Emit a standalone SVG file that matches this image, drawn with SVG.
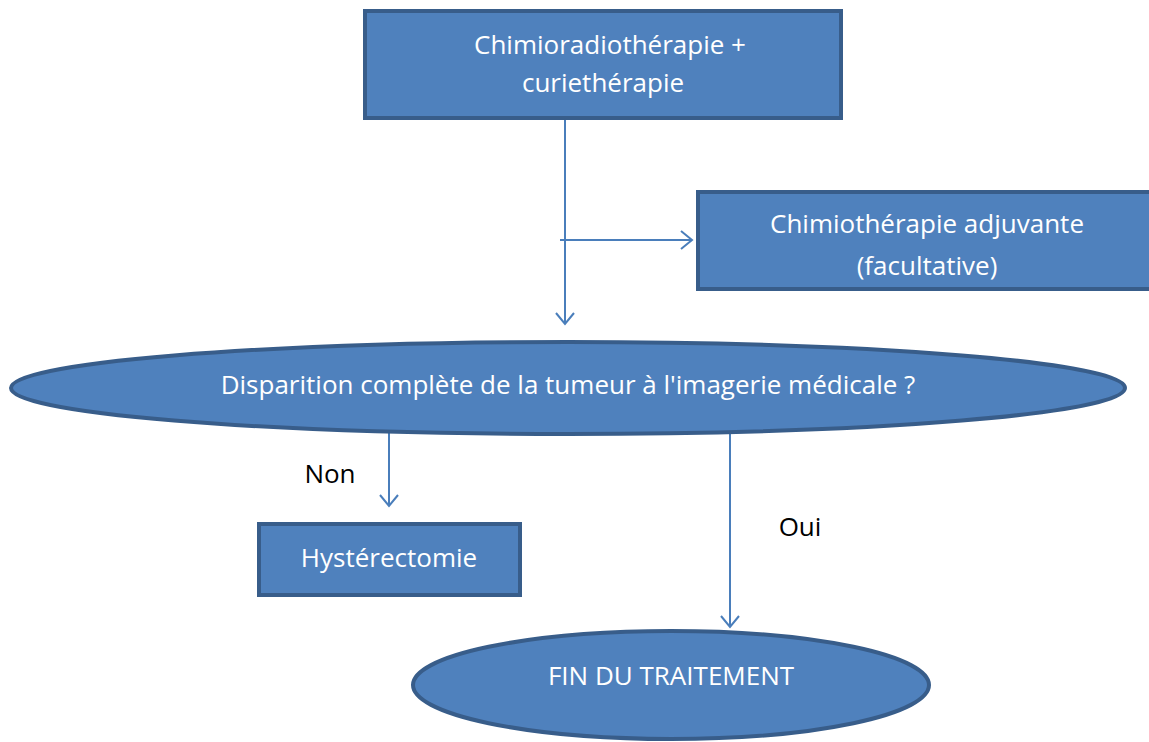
<svg xmlns="http://www.w3.org/2000/svg" width="1149" height="742" viewBox="0 0 1149 742">
<style>
.box{fill:#4F81BD;stroke:#385D8A;stroke-width:4}
.lbl{font-family:"Open Sans","Liberation Sans",sans-serif;font-size:26px;fill:#FFFFFF;text-anchor:middle}
.blk{font-family:"Open Sans","Liberation Sans",sans-serif;font-size:26px;fill:#000000;text-anchor:middle}
.con{stroke:#4A7EBB;stroke-width:2;fill:none}
</style>
<defs>
<marker id="arr" markerUnits="userSpaceOnUse" markerWidth="26" markerHeight="26" refX="12" refY="10" orient="auto" viewBox="0 0 26 20">
<path d="M1,1 L12,10 L1,19" fill="none" stroke="#4A7EBB" stroke-width="2"/>
</marker>
</defs>
<rect width="1149" height="742" fill="#FFFFFF"/>
<g id="connectors">
<line class="con" x1="565" y1="113" x2="565" y2="324" marker-end="url(#arr)"/>
<line class="con" x1="560" y1="240" x2="692" y2="240" marker-end="url(#arr)"/>
<line class="con" x1="389" y1="433" x2="389" y2="506" marker-end="url(#arr)"/>
<line class="con" x1="730" y1="433" x2="730" y2="627" marker-end="url(#arr)"/>
</g>
<g id="n1">
<rect class="box" x="365" y="11" width="476" height="107"/>
<text class="lbl" x="610" y="54">Chimioradiothérapie +</text>
<text class="lbl" x="603" y="92">curiethérapie</text>
</g>
<g id="n2">
<rect class="box" x="698" y="192" width="460" height="97"/>
<text class="lbl" x="927" y="233">Chimiothérapie adjuvante</text>
<text class="lbl" x="927" y="275">(facultative)</text>
</g>
<g id="n3">
<ellipse class="box" cx="568" cy="388" rx="557" ry="46"/>
<text class="lbl" x="568" y="394">Disparition complète de la tumeur à l'imagerie médicale ?</text>
</g>
<g id="n4">
<rect class="box" x="259" y="524" width="261" height="71"/>
<text class="lbl" x="389" y="567">Hystérectomie</text>
</g>
<g id="n5">
<ellipse class="box" cx="671" cy="685" rx="258" ry="54"/>
<text class="lbl" x="671" y="685">FIN DU TRAITEMENT</text>
</g>
<g id="labels">
<text class="blk" x="330" y="483">Non</text>
<text class="blk" x="800" y="536">Oui</text>
</g>
</svg>
